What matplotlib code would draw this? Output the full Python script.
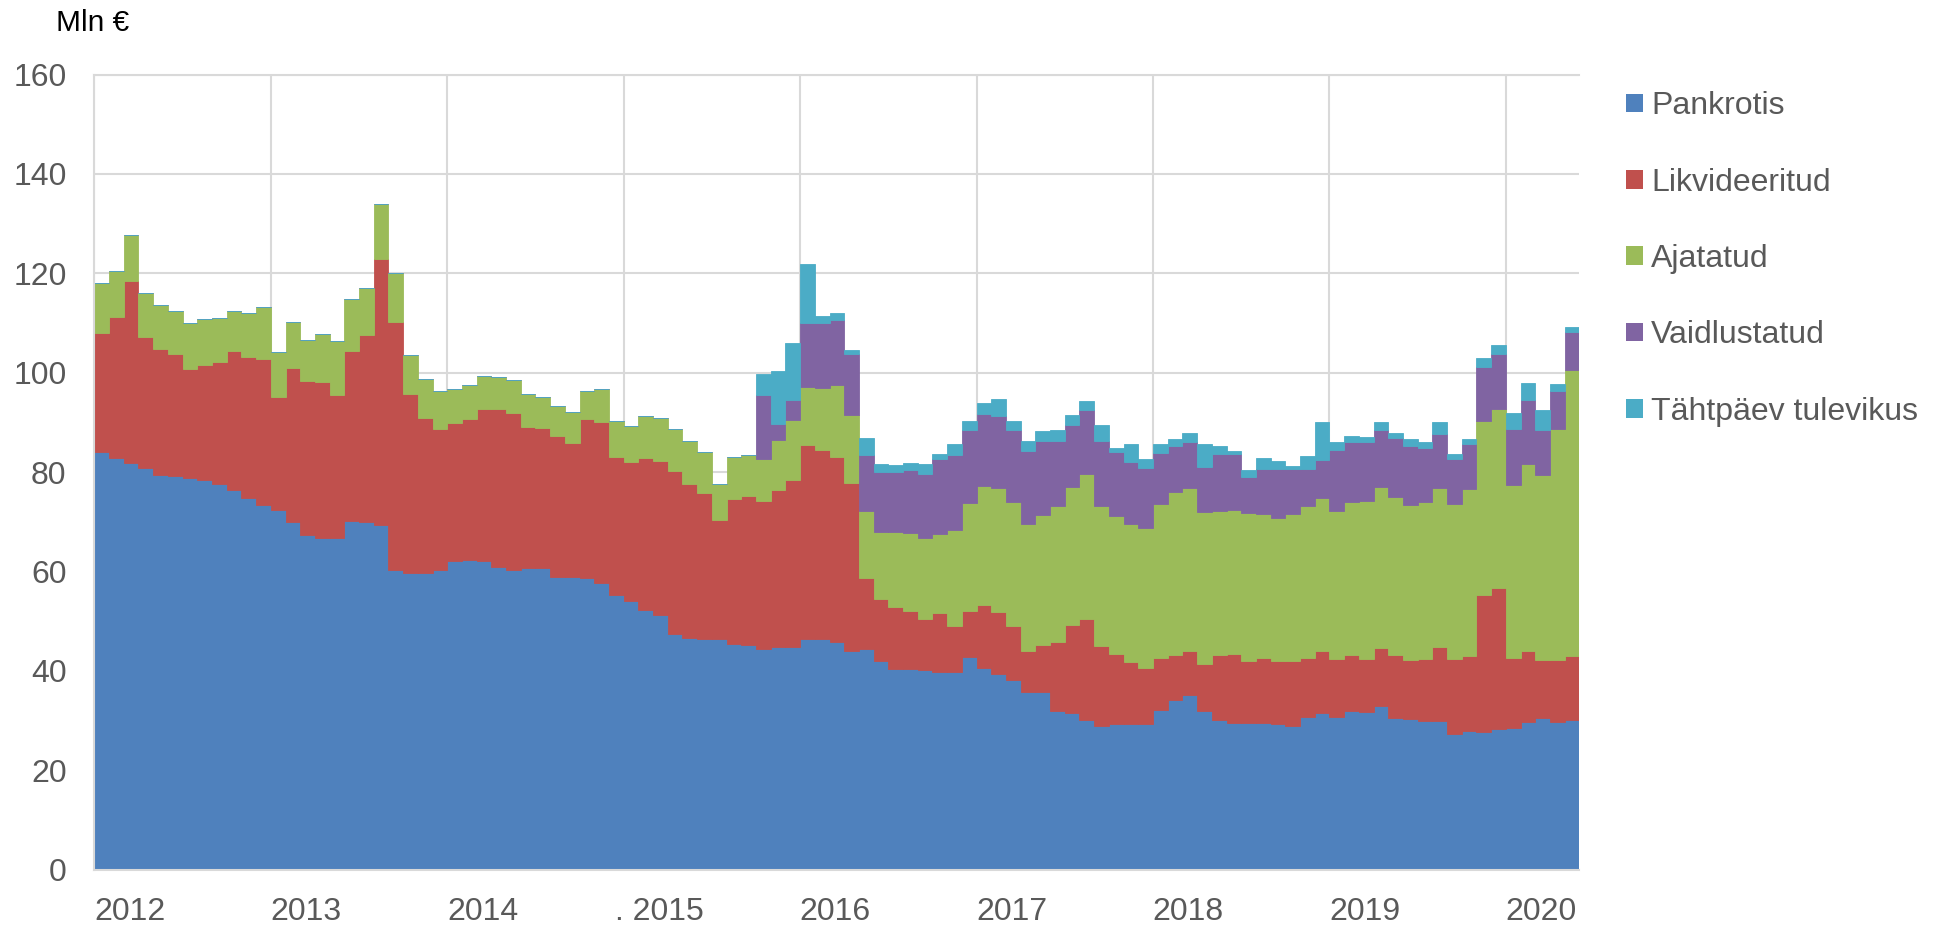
import matplotlib
matplotlib.use('Agg')
import matplotlib.pyplot as plt
from matplotlib.patches import Patch
import numpy as np

# monthly values, Jan 2012 .. May 2020, mln EUR
pankrotis = [
    84.0, 82.8, 81.8, 80.8, 79.4, 79.2, 78.9, 78.4, 77.7, 76.3, 74.8, 73.4,
    72.4, 69.9, 67.4, 66.7, 66.7, 70.1, 70.0, 69.3, 60.2, 59.6, 59.6, 60.2,
    62.2, 62.4, 62.1, 60.9, 60.2, 60.6, 60.6, 58.8, 58.9, 58.6, 57.6, 55.3,
    54.0, 52.2, 51.2, 47.4, 46.6, 46.5, 46.3, 45.4, 45.2, 44.3, 44.8, 44.8,
    46.5, 46.3, 45.8, 44.0, 44.3, 41.9, 40.4, 40.3, 40.1, 39.7, 39.8, 42.8,
    40.5, 39.3, 38.2, 35.7, 35.7, 32.0, 31.6, 30.1, 28.9, 29.2, 29.2, 29.2,
    32.1, 34.1, 35.2, 32.0, 30.0, 29.4, 29.4, 29.4, 29.2, 28.8, 30.7, 31.6,
    30.7, 32.0, 31.8, 32.9, 30.4, 30.2, 29.8, 29.8, 27.3, 27.9, 27.6, 28.2,
    28.5, 29.7, 30.4, 29.6, 30.1,
]
likvideeritud = [
    23.9, 28.5, 36.6, 26.3, 25.3, 24.5, 21.9, 23.2, 24.4, 28.1, 28.3, 29.4,
    22.7, 31.0, 30.9, 31.4, 28.8, 34.3, 37.5, 53.6, 50.1, 36.2, 31.3, 28.5,
    27.7, 28.3, 30.5, 31.7, 31.6, 28.5, 28.3, 28.4, 27.0, 32.0, 32.4, 27.8,
    28.1, 30.7, 31.1, 32.8, 31.1, 29.3, 24.0, 29.2, 29.9, 29.9, 31.5, 33.7,
    38.9, 38.1, 37.3, 33.9, 14.4, 12.6, 12.4, 11.7, 10.4, 11.9, 9.3, 9.2,
    12.7, 12.6, 10.9, 8.3, 9.4, 13.7, 17.6, 20.3, 16.0, 14.1, 12.6, 11.3,
    10.4, 9.0, 8.7, 9.3, 13.1, 13.9, 12.6, 13.2, 12.8, 13.2, 11.9, 12.4,
    11.7, 11.1, 10.6, 11.7, 12.7, 12.0, 12.6, 15.0, 15.0, 15.0, 27.7, 28.4,
    14.1, 14.3, 11.8, 12.6, 12.9,
]
ajatatud = [
    10.2, 9.2, 9.3, 8.9, 9.0, 8.8, 9.2, 9.2, 9.0, 8.1, 8.9, 10.4,
    9.1, 9.3, 8.3, 9.6, 10.9, 10.5, 9.6, 11.0, 9.8, 7.7, 7.8, 7.6,
    6.9, 6.9, 6.8, 6.5, 6.7, 6.6, 6.3, 6.2, 6.1, 5.8, 6.7, 7.2,
    7.2, 8.4, 8.5, 8.5, 8.5, 8.2, 7.4, 8.5, 8.4, 8.4, 10.2, 12.0,
    11.8, 12.5, 14.4, 13.6, 13.5, 13.4, 15.1, 15.8, 16.3, 15.9, 19.2, 21.8,
    23.9, 24.9, 24.9, 25.5, 26.3, 27.4, 27.7, 29.2, 28.3, 27.9, 27.8, 28.3,
    31.1, 32.8, 32.8, 30.7, 29.0, 29.1, 29.8, 29.0, 28.7, 29.6, 30.6, 30.7,
    29.7, 30.9, 31.8, 32.3, 31.8, 31.1, 31.5, 32.0, 31.3, 33.7, 35.0, 36.1,
    34.7, 37.6, 37.3, 46.4, 57.6,
]
vaidlustatud = [
    0, 0, 0, 0, 0, 0, 0, 0, 0, 0, 0, 0,
    0, 0, 0, 0, 0, 0, 0, 0, 0, 0, 0, 0,
    0, 0, 0, 0, 0, 0, 0, 0, 0, 0, 0, 0,
    0, 0, 0, 0, 0, 0, 0, 0, 0, 12.9, 3.1, 4.1,
    12.9, 13.2, 13.2, 12.2, 11.3, 12.2, 12.1, 12.7, 12.9, 15.2, 15.2, 14.7,
    14.6, 14.5, 14.5, 14.7, 14.8, 13.1, 12.5, 12.8, 13.1, 12.9, 12.5, 12.0,
    10.2, 9.3, 9.3, 9.1, 11.5, 11.3, 7.3, 9.0, 10.0, 9.0, 7.5, 7.8,
    12.3, 12.0, 11.8, 11.6, 12.0, 11.9, 11.0, 10.8, 9.0, 9.1, 10.9, 11.0,
    11.3, 13.0, 8.9, 7.8, 7.5,
]
tahtpaev = [
    0, 0, 0, 0, 0, 0, 0, 0, 0, 0, 0, 0,
    0, 0, 0, 0, 0, 0, 0, 0, 0, 0, 0, 0,
    0, 0, 0, 0, 0, 0, 0, 0, 0, 0, 0, 0,
    0, 0, 0, 0, 0, 0, 0, 0, 0, 4.3, 10.7, 11.4,
    11.8, 1.4, 1.4, 0.8, 3.3, 1.5, 1.5, 1.3, 1.9, 1.0, 2.1, 1.8,
    2.2, 3.5, 1.7, 2.1, 2.0, 2.2, 2.0, 2.0, 3.2, 0.8, 3.5, 1.9,
    1.9, 1.4, 1.8, 4.5, 1.6, 0.5, 1.4, 2.3, 1.6, 0.7, 2.6, 7.6,
    1.7, 1.2, 1.1, 1.6, 1.0, 1.4, 1.2, 2.5, 1.0, 0.9, 1.8, 1.8,
    3.2, 3.3, 4.0, 1.3, 1.2,
]

series = [
    ('Pankrotis', pankrotis, '#4F81BD'),
    ('Likvideeritud', likvideeritud, '#C0504D'),
    ('Ajatatud', ajatatud, '#9BBB59'),
    ('Vaidlustatud', vaidlustatud, '#8064A2'),
    ('Tähtpäev tulevikus', tahtpaev, '#4BACC6'),
]
year_labels = ['2012', '2013', '2014', '. 2015', '2016', '2017', '2018', '2019', '2020']

plt.rcParams['font.family'] = ['Liberation Sans', 'DejaVu Sans']
grey = '#595959'
grid_c = '#d9d9d9'

fig, ax = plt.subplots(figsize=(19.46, 9.26), dpi=100)
fig.subplots_adjust(left=0.0485, right=0.8116, bottom=0.061, top=0.9194)

months = np.arange(len(pankrotis))
bottom = np.zeros(len(months))
handles = []
for name, values, color in series:
    values = np.array(values, dtype=float)
    ax.bar(months, values, width=1.0, bottom=bottom, align='edge',
           color=color, edgecolor=color, linewidth=0.6, zorder=2)
    bottom += values
    handles.append(Patch(facecolor=color, edgecolor='none', label=name))

ax.set_xlim(0, len(months))
ax.set_ylim(0, 160)
ax.set_yticks(np.arange(0, 161, 20))

# year boundaries as minor ticks (grid), labels a bit into each year
ax.set_xticks(np.arange(0, len(months), 12), minor=True)
ax.set_xticks(np.arange(len(year_labels)) * 12 + 2.4)
ax.set_xticklabels(year_labels)

ax.grid(True, which='minor', axis='x', color=grid_c, linewidth=1.5, zorder=0)
ax.grid(True, which='major', axis='y', color=grid_c, linewidth=1.5, zorder=0)
ax.set_axisbelow(True)
ax.tick_params(axis='both', which='both', length=0, labelsize=23, labelcolor=grey)
ax.tick_params(axis='y', pad=20)
ax.tick_params(axis='x', pad=19.5)

for side in ('left', 'bottom', 'top'):
    ax.spines[side].set_color(grid_c)
    ax.spines[side].set_linewidth(1.5)
ax.spines['right'].set_visible(False)

fig.text(56 / 1946, 1 - 23 / 926, 'Mln €', fontsize=21.5, color='black', va='center', ha='left')

leg = fig.legend(handles=handles, loc='upper left', bbox_to_anchor=(0.8356, 0.9012),
                 frameon=False, fontsize=23, handlelength=0.52, handleheight=0.52,
                 handletextpad=0.26, labelspacing=1.45, borderpad=0, borderaxespad=0)
for t in leg.get_texts():
    t.set_color(grey)

fig.savefig('out.png', dpi=100)
plt.close(fig)
